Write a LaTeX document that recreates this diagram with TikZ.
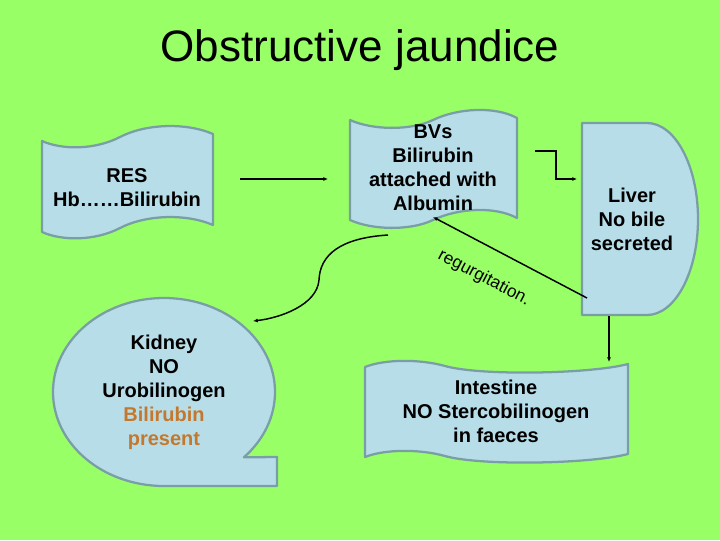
\documentclass[tikz,border=0pt]{standalone}
\usepackage{fontspec}
\setmainfont{Liberation Sans}
\usetikzlibrary{arrows.meta}
\definecolor{bggreen}{RGB}{153,255,102}
\definecolor{boxfill}{RGB}{183,222,232}
\definecolor{boxedge}{RGB}{122,158,165}
\definecolor{orangetxt}{RGB}{196,120,46}
\begin{document}
\begin{tikzpicture}[x=0.75pt,y=0.75pt,yscale=-1,xscale=1,
  shapebox/.style={draw=boxedge,fill=boxfill,line width=1.7pt,line join=round},
  conn/.style={line width=1.1pt,-{Latex[length=3.5pt,width=3pt]}},
  lbl/.style={font=\bfseries\fontsize{15}{18}\selectfont,align=center,inner sep=0pt}]
%set diagram left start at 0, and has height of 540
\fill[bggreen] (0,0) rectangle (720,540);
\useasboundingbox (0,0) rectangle (720,540);

%Shape: Punched tape [RES]
\draw[shapebox] (42,141) .. controls (62,150) and (95,150) .. (120,137) .. controls (145,124) and (185,122) .. (213,134) -- (213,225) .. controls (185,213) and (145,215) .. (120,228) .. controls (95,241) and (62,241) .. (42,232) -- cycle ;
%Shape: Punched tape [BVs]
\draw[shapebox] (350,120) .. controls (372,130) and (410,131) .. (433,120) .. controls (458,108) and (495,106) .. (517,118) -- (517,218) .. controls (495,206) and (458,208) .. (433,220) .. controls (410,231) and (372,230) .. (350,220) -- cycle ;
%Shape: Delay [Liver]
\draw[shapebox] (582,123) -- (647,123) arc[start angle=-90,end angle=90,x radius=51,y radius=96] -- (582,315) -- cycle ;
%Shape: Callout [Kidney]
\draw[shapebox] (164,486) arc[start angle=90,end angle=404,x radius=111,y radius=94] -- (277,457) -- (277,486) -- cycle ;
%Shape: Wave [Intestine]
\draw[shapebox] (365,367) .. controls (385,359) and (420,359) .. (445,366) .. controls (480,376) and (590,374) .. (628,364) -- (628,454) .. controls (590,464) and (480,466) .. (445,456) .. controls (420,449) and (385,449) .. (365,457) -- cycle ;

% Connector ends
\coordinate (resOut) at (240,179);
\coordinate (bvsIn) at (328,179);
\coordinate (bvsOut) at (535,151);
\coordinate (liverIn) at (577,179);
\coordinate (liverReg) at (587,298);
\coordinate (bvsReg) at (433,217);
\coordinate (bvsKid) at (388,235);
\coordinate (kidIn) at (253,321);
\coordinate (liverOut) at (609,316);
\coordinate (intIn) at (609,362);

\draw[conn] (resOut) -- (bvsIn);
\draw[conn] (bvsOut) -- ++(21,0) |- (liverIn);
\draw[conn] (liverReg) -- (bvsReg);
\draw[conn] (bvsKid) .. controls (340,238) and (320,255) .. (319,280) .. controls (317,305) and (280,318) .. (kidIn);
\draw[conn] (liverOut) -- (intIn);

% Text Node
\node (title) at (360,50) {\fontsize{33}{40}\selectfont Obstructive jaundice};
% Text Node
\node[lbl] (res) at (127,188) {RES\\Hb……Bilirubin};
% Text Node
\node[lbl] (bvs) at (433,168) {BVs\\Bilirubin\\attached with\\Albumin};
% Text Node
\node[lbl] (liver) at (632,219) {Liver\\No bile\\secreted};
% Text Node
\node[lbl] (kidney) at (164,392) {Kidney\\NO\\Urobilinogen\\\textcolor{orangetxt}{Bilirubin}\\\textcolor{orangetxt}{present}};
% Text Node
\node[lbl] (intestine) at (496,411) {Intestine\\NO Stercobilinogen\\in faeces};
% Text Node
\node[rotate=-27.6,inner sep=0pt] (regurg) at (484,278) {\fontsize{13}{15}\selectfont regurgitation.};

\end{tikzpicture}
\end{document}
